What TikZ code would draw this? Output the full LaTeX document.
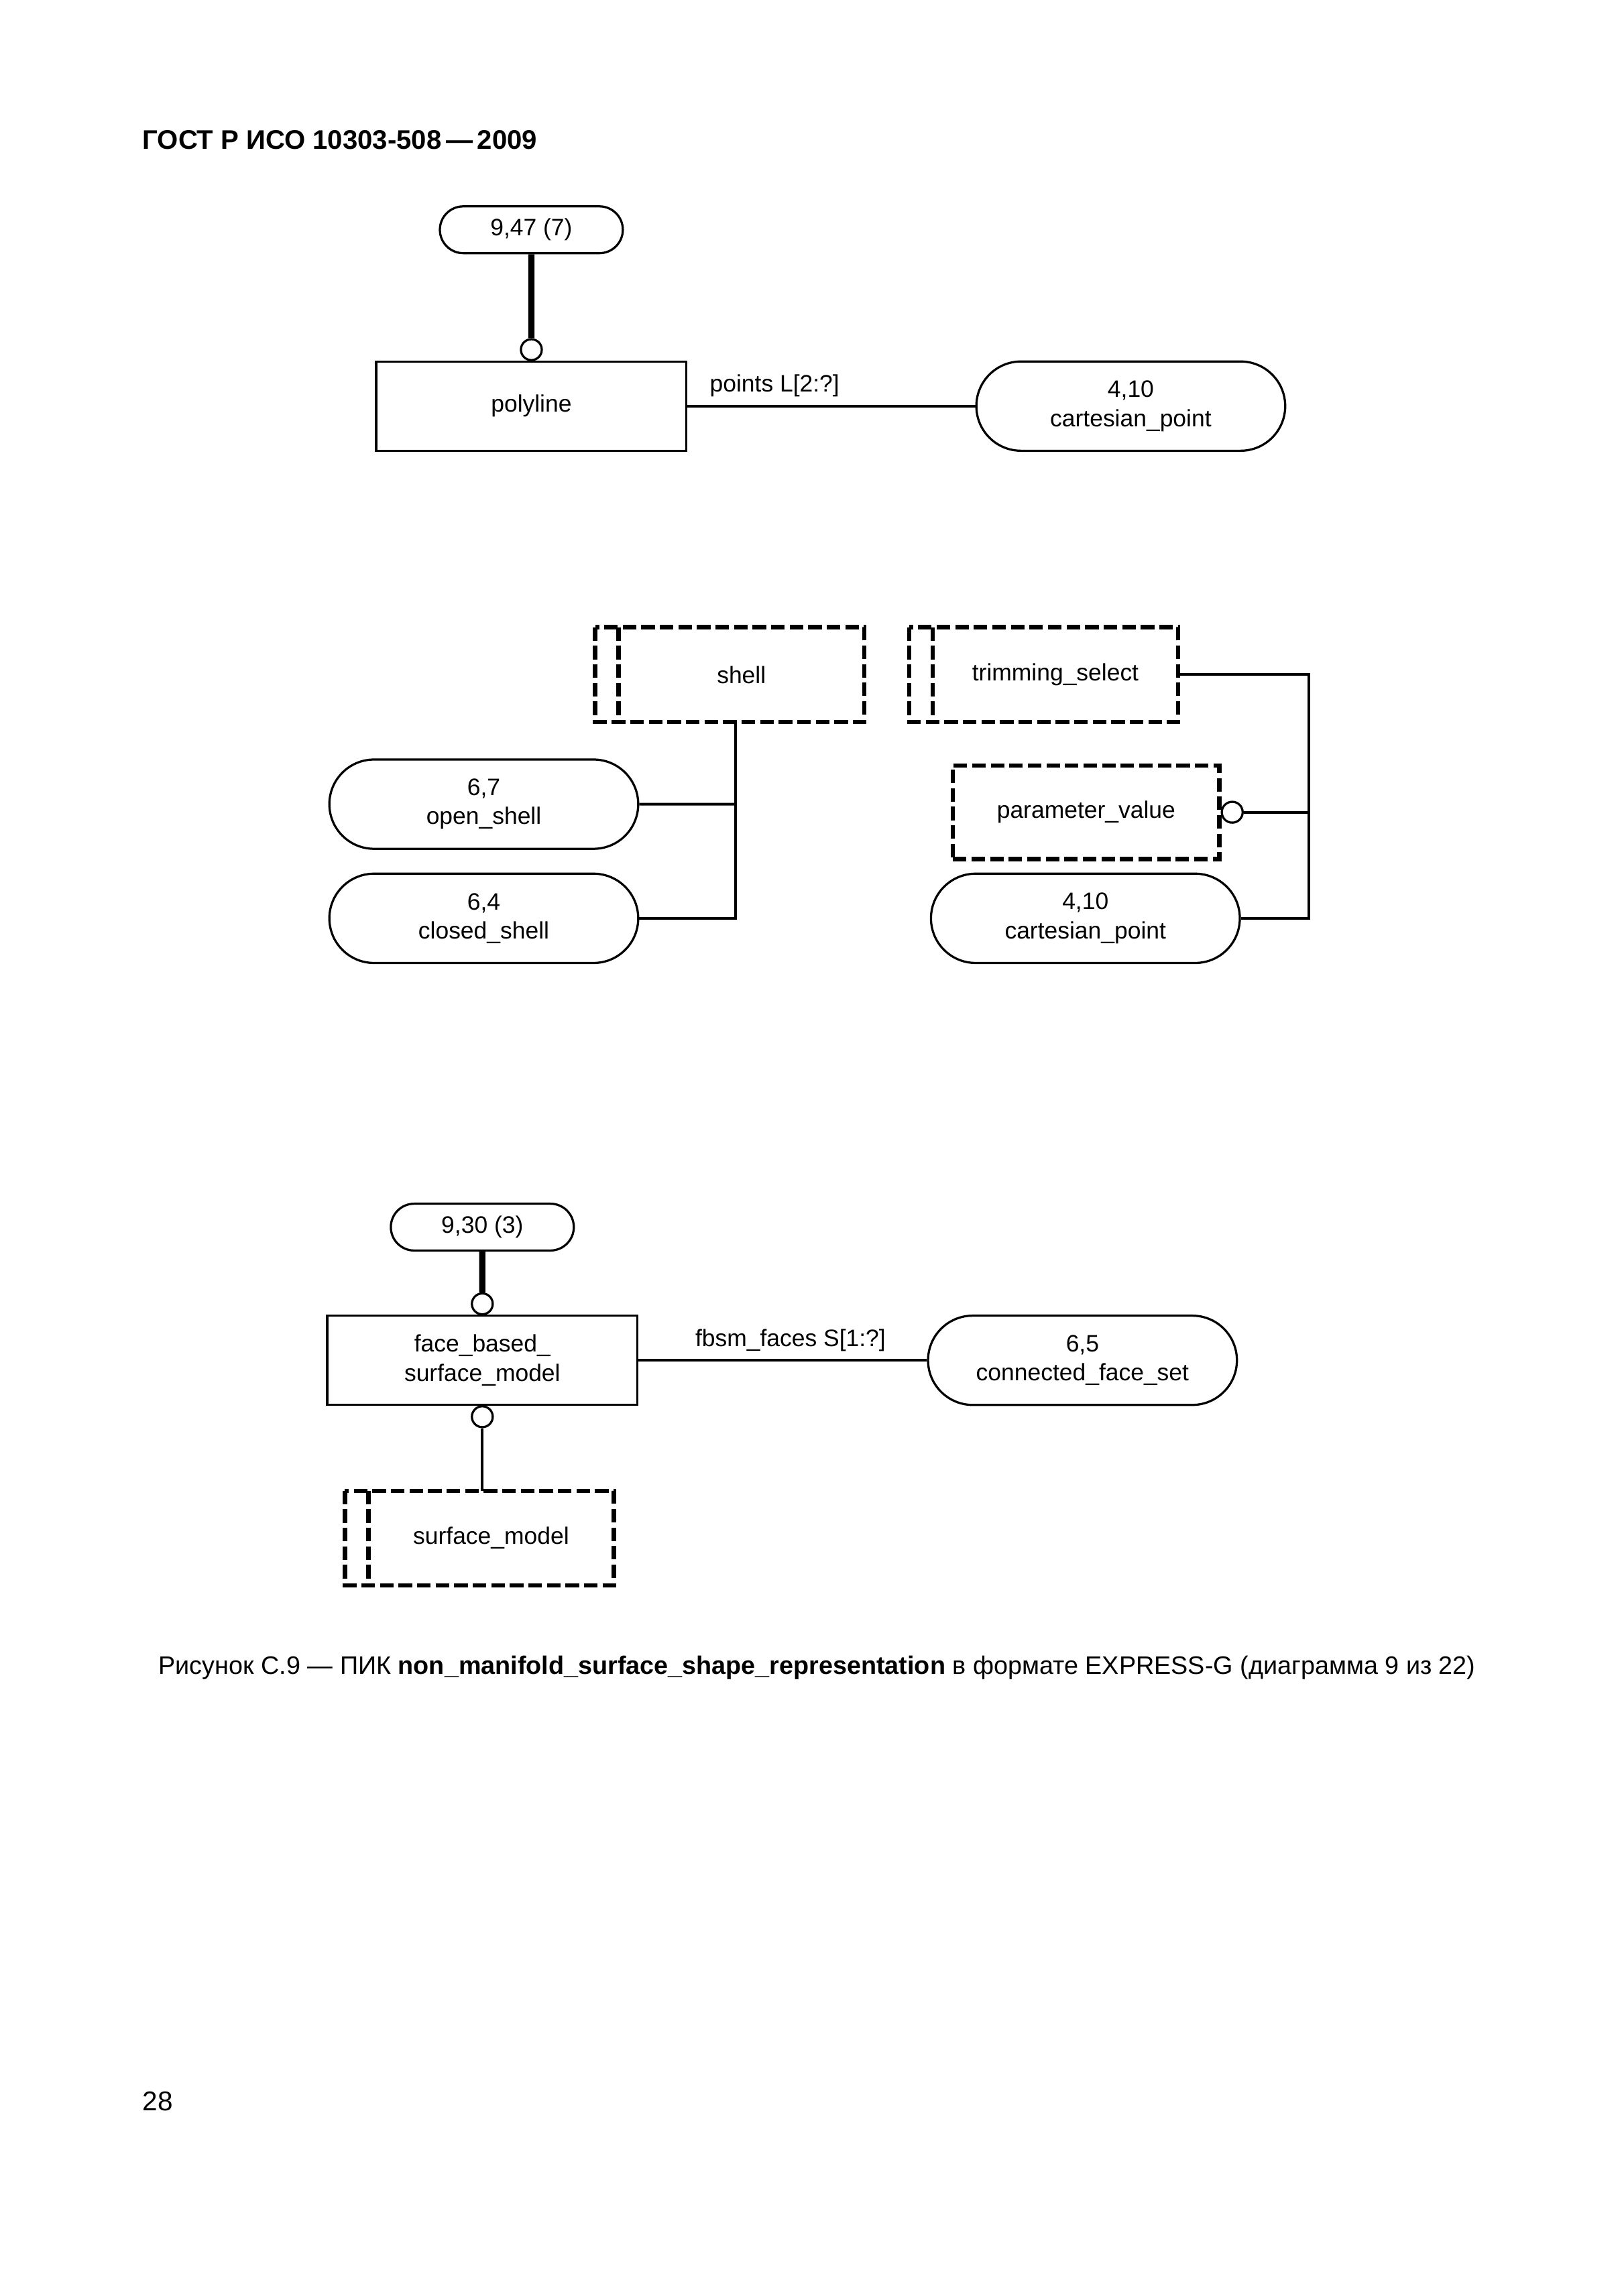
\documentclass[tikz,border=0pt]{standalone}
\usepackage{fontspec}
\setmainfont{Liberation Sans}
\usetikzlibrary{positioning,shapes.misc}

\def\unitpx{0.18936mm}
\def\dbl{16*\unitpx}

\begin{document}
\begin{tikzpicture}[x=\unitpx, y=-\unitpx, font=\fontsize{8.75}{10.7}\selectfont]
        \tikzstyle{every node}=[inner sep=0pt]
        \tikzstyle{entity}=[draw, line width=0.8pt, minimum width=212*\unitpx, minimum height=61*\unitpx, align=center]
        \tikzstyle{ref entity}=[entity, rounded rectangle, minimum width=211*\unitpx]
        \tikzstyle{page ref}=[draw, line width=0.8pt, rounded rectangle, minimum width=125*\unitpx, minimum height=32*\unitpx]
        \tikzstyle{select}=[minimum width=167*\unitpx, minimum height=64*\unitpx]
        \tikzstyle{dash box}=[line width=1.6pt, dash pattern=on 1.75mm off 0.65mm]
        \tikzstyle{ring}=[circle, draw, line width=0.8pt, fill=white, minimum size=2.7mm]
        \tikzstyle{link}=[line width=1pt]
        \tikzstyle{thick link}=[line width=2.3pt]
        \tikzstyle{attr}=[anchor=south west]

        \useasboundingbox[fill=white] (0,0) rectangle (1109,1568.9);

        % Page header
        \node[anchor=base west, font=\bfseries\fontsize{9.9}{12}\selectfont] (head) at (97,102) {ГОСТ Р ИСО 10303-508\,—\,2009};

        % First diagram: polyline
        \node[page ref] (r947) at (363,157) {9,47 (7)};
        \node[entity] (poly) at (363,277.5) {polyline};
        \node[ref entity] (cp1) at (772.5,277.5) {4,10\\cartesian\_point};
        \node[ring, above=-0.3pt of poly] (o1) {};
        \draw[thick link] (r947) -- (o1);
        \draw[link] (poly) -- node[attr, pos=0, xshift=2.7mm, yshift=1mm] {points L[2:?]} (cp1);

        % Second diagram: shell and trimming_select
        \node[select] (shell) at (506.5,461) {shell};
        \node[ref entity] (open) at (330.5,549.5) {6,7\\open\_shell};
        \node[ref entity] (closed) at (330.5,627.5) {6,4\\closed\_shell};
        \node[select] (trim) at (721,461) {trimming\_select};
        \node[select, draw, dash box, minimum width=182*\unitpx] (param) at (742,555) {parameter\_value};
        \node[ref entity] (cp2) at (741.5,627.5) {4,10\\cartesian\_point};
        \node[ring, right=-0.3pt of param] (o2) {};
        \coordinate (tbus) at (894,461);
        \coordinate (sbus) at ([xshift=-4*\unitpx]shell.south);

        \draw[link] (sbus) |- (closed);
        \draw[link] (open) -- (open -| sbus);
        \draw[link] (trim) -- (tbus) |- (cp2);
        \draw[link] (o2) -- (o2 -| tbus);

        % Third diagram: face_based_surface_model
        \node[page ref] (r930) at (329.5,838.5) {9,30 (3)};
        \node[entity] (fbsm) at (329.5,929.5) {face\_based\_\\surface\_model};
        \node[ref entity] (cfs) at (739.5,929.5) {6,5\\connected\_face\_set};
        \node[ring, above=-0.3pt of fbsm] (o3) {};
        \node[ring, below=-0.3pt of fbsm] (o4) {};
        \node[select] (surfmod) at (335.5,1051) {surface\_model};

        \draw[thick link] (r930) -- (o3);
        \draw[link] (o4) -- (o4 |- surfmod.north);
        \draw[link] (fbsm) -- node[above, midway, xshift=1mm, yshift=1mm] {fbsm\_faces S[1:?]} (cfs);

        % Select types get the double left edge
        \foreach \s in {shell,trim,surfmod} {
            \draw[dash box] ([xshift=-\dbl]\s.north west) rectangle (\s.south east);
            \draw[dash box] (\s.north west) -- (\s.south west);
        }

        % Caption and page number
        \node[anchor=base west, font=\fontsize{9.32}{12}\selectfont] (cap) at (108,1144) {Рисунок С.9 — ПИК \textbf{non\_manifold\_surface\_shape\_representation} в формате EXPRESS-G (диаграмма 9 из 22)};
        \node[anchor=base west, font=\fontsize{10}{12}\selectfont] (page) at (97,1442) {28};
\end{tikzpicture}
\end{document}
